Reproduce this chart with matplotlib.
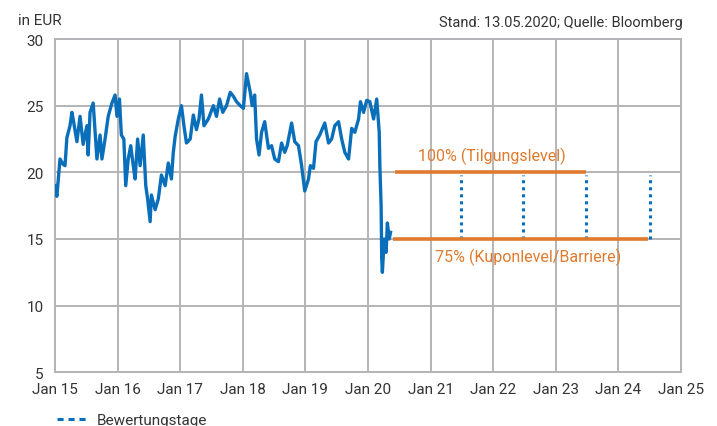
import matplotlib
matplotlib.use("Agg")
import matplotlib.pyplot as plt
from matplotlib.lines import Line2D

# ---- data ----
years = [2015.00, 2015.03, 2015.08, 2015.13, 2015.16, 2015.19, 2015.24, 2015.27, 2015.29, 2015.35,
         2015.40, 2015.45, 2015.51, 2015.53, 2015.56, 2015.61, 2015.67, 2015.72, 2015.75, 2015.80,
         2015.85, 2015.91, 2015.96, 2015.99, 2016.03, 2016.06, 2016.10, 2016.13, 2016.17, 2016.21,
         2016.25, 2016.28, 2016.32, 2016.36, 2016.41, 2016.45, 2016.48, 2016.52, 2016.54, 2016.60,
         2016.65, 2016.70, 2016.76, 2016.81, 2016.86, 2016.89, 2016.92, 2016.97, 2017.02, 2017.06,
         2017.10, 2017.16, 2017.21, 2017.26, 2017.30, 2017.34, 2017.38, 2017.45, 2017.53, 2017.58,
         2017.63, 2017.68, 2017.74, 2017.80, 2017.85, 2017.90, 2017.96, 2018.01, 2018.06, 2018.12,
         2018.15, 2018.19, 2018.22, 2018.26, 2018.30, 2018.35, 2018.41, 2018.46, 2018.51, 2018.57,
         2018.62, 2018.67, 2018.71, 2018.78, 2018.83, 2018.89, 2018.94, 2018.99, 2019.05, 2019.08,
         2019.13, 2019.17, 2019.23, 2019.31, 2019.37, 2019.42, 2019.47, 2019.53, 2019.58, 2019.63,
         2019.69, 2019.74, 2019.79, 2019.85, 2019.88, 2019.93, 2019.98, 2020.03, 2020.09, 2020.14,
         2020.18, 2020.19, 2020.21, 2020.22, 2020.23, 2020.26, 2020.29, 2020.31, 2020.34, 2020.36]
price = [19.0, 18.2, 21.0, 20.6, 20.5, 22.6, 23.5, 24.5, 24.0, 22.3,
         24.2, 22.1, 23.5, 21.3, 24.5, 25.2, 21.0, 22.8, 21.0, 22.5,
         24.2, 25.2, 25.8, 24.2, 25.5, 22.8, 22.5, 19.0, 21.0, 22.0,
         20.5, 19.5, 22.5, 20.5, 22.8, 19.0, 18.0, 16.3, 18.3, 17.2,
         18.0, 19.8, 19.0, 20.7, 19.5, 21.5, 22.7, 24.0, 25.0, 23.5,
         22.2, 22.5, 24.3, 23.2, 24.0, 25.8, 23.5, 24.0, 25.0, 24.2,
         25.5, 24.5, 25.0, 26.0, 25.7, 25.3, 25.0, 24.8, 27.4, 26.0,
         25.0, 25.8, 22.5, 21.3, 23.0, 23.8, 21.8, 22.0, 21.0, 20.8,
         22.2, 21.5, 22.0, 23.7, 22.3, 22.0, 20.5, 18.6, 19.5, 20.5,
         20.3, 22.3, 22.8, 23.7, 22.2, 22.5, 23.5, 23.8, 22.5, 21.5,
         21.0, 23.3, 23.0, 24.0, 25.3, 24.5, 25.4, 25.3, 24.0, 25.5,
         23.0, 20.5, 17.5, 13.5, 12.5, 15.0, 14.0, 16.2, 15.0, 15.5]

level_100 = 20.0
level_75 = 15.0
level_100_span = [2020.43, 2023.49]
level_75_span = [2020.40, 2024.48]
valuation_days = [2021.48, 2022.48, 2023.49, 2024.50]
valuation_top = 19.8

xticks = list(range(2015, 2026))
xlabels = ["Jan 15", "Jan 16", "Jan 17", "Jan 18", "Jan 19", "Jan 20",
           "Jan 21", "Jan 22", "Jan 23", "Jan 24", "Jan 25"]
yticks = [5, 10, 15, 20, 25, 30]

# ---- style ----
plt.rcParams['font.family'] = ['Liberation Sans Narrow', 'DejaVu Sans Condensed',
                               'Roboto', 'DejaVu Sans']
BLUE = "#0a6fba"
ORANGE = "#e07a2e"
GRID = "#b4b4b8"
TXT = "#333333"

fig = plt.figure(figsize=(7.17, 4.27), dpi=100)
ax = fig.add_axes([0.0767, 0.1257, 0.873, 0.7806])

ax.plot(years, price, color=BLUE, lw=2.4, solid_joinstyle='round', zorder=3)
ax.hlines(level_100, level_100_span[0], level_100_span[1], color=ORANGE, lw=2.6, zorder=4)
ax.hlines(level_75, level_75_span[0], level_75_span[1], color=ORANGE, lw=2.6, zorder=4)
ax.vlines(valuation_days, level_75, valuation_top, color=BLUE, lw=2.2,
          linestyles=(0, (1, 1.3)), zorder=3)

ax.text(2021.98, 21.3, "100% (Tilgungslevel)", color=ORANGE, fontsize=11.5,
        ha='center', va='center')
ax.text(2022.56, 13.7, "75% (Kuponlevel/Barriere)", color=ORANGE, fontsize=11.5,
        ha='center', va='center')

ax.set_xlim(2015, 2025)
ax.set_ylim(5, 30)
ax.set_xticks(xticks)
ax.set_xticklabels(xlabels)
ax.set_yticks(yticks)
ax.grid(True, color=GRID, lw=1.4)
ax.set_axisbelow(True)
for s in ax.spines.values():
    s.set_color(GRID)
    s.set_linewidth(1.4)
ax.tick_params(length=0, labelsize=11, colors=TXT)
ax.tick_params(axis='y', pad=8)
ax.tick_params(axis='x', pad=7)

fig.text(0.025, 0.95, "in EUR", fontsize=11, color=TXT, ha='left', va='center')
fig.text(0.952, 0.945, "Stand: 13.05.2020; Quelle: Bloomberg", fontsize=10.5,
         color=TXT, ha='right', va='center')

h = Line2D([0], [0], color=BLUE, lw=2.2, linestyle=(0, (2, 1.6)))
fig.legend([h], ["Bewertungstage"], loc='lower left', bbox_to_anchor=(0.061, -0.035),
           frameon=False, fontsize=11, handlelength=2.1, handletextpad=0.45,
           labelcolor=TXT)

fig.savefig("out.png", dpi=100)
